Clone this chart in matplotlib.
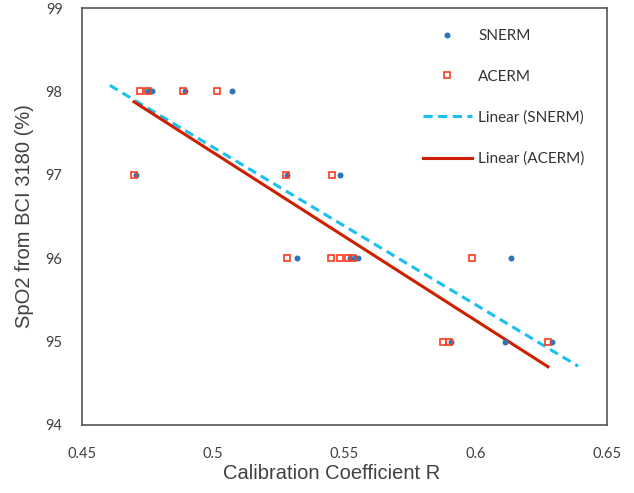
import numpy as np
import matplotlib
matplotlib.use('Agg')
import matplotlib.pyplot as plt

# Calibration coefficient R vs SpO2 reference readings
snerm_r = [0.4751, 0.4767, 0.4892, 0.5071,
           0.4706, 0.5281, 0.5483,
           0.5319, 0.5521, 0.5540, 0.5551, 0.6134,
           0.5906, 0.6111, 0.6290]
snerm_spo2 = [98, 98, 98, 98,
              97, 97, 97,
              96, 96, 96, 96, 96,
              95, 95, 95]

acerm_r = [0.4721, 0.4751, 0.4885, 0.5014,
           0.4698, 0.5277, 0.5452,
           0.5281, 0.5449, 0.5483, 0.5514, 0.5533, 0.5986,
           0.5875, 0.5898, 0.6275]
acerm_spo2 = [98, 98, 98, 98,
              97, 97, 97,
              96, 96, 96, 96, 96, 96,
              95, 95, 95]

# trendline extension (forecast backward/forward) for SNERM
snerm_extend = 0.010

x_ticks = [0.45, 0.5, 0.55, 0.6, 0.65]
x_ticklabels = ['0.45', '0.5', '0.55', '0.6', '0.65']
y_ticks = [94, 95, 96, 97, 98, 99]

blue_dot = '#2E75B6'
sq_red = '#FF3B1F'
dash_blue = '#1CC0F0'
line_red = '#CC2000'

fig = plt.figure(figsize=(6.34, 4.93), dpi=100)
ax = fig.add_axes([82/634, 1 - 425/493, (607-82)/634, (425-8)/493])

ax.plot(snerm_r, snerm_spo2, linestyle='none', marker='o', markersize=4.3,
        color=blue_dot, markeredgewidth=0, label='SNERM', zorder=3)
ax.plot(acerm_r, acerm_spo2, linestyle='none', marker='s', markersize=4.6,
        markerfacecolor='none', markeredgecolor=sq_red, markeredgewidth=1.2,
        label='ACERM', zorder=3)

# Linear trendlines
k1, b1 = np.polyfit(snerm_r, snerm_spo2, 1)
xs1 = np.array([min(snerm_r) - snerm_extend, max(snerm_r) + snerm_extend])
ax.plot(xs1, k1*xs1 + b1, color=dash_blue, linewidth=2.2, dashes=(3, 1.8),
        label='Linear (SNERM)', zorder=2)
k2, b2 = np.polyfit(acerm_r, acerm_spo2, 1)
xs2 = np.array([min(acerm_r), max(acerm_r)])
ax.plot(xs2, k2*xs2 + b2, color=line_red, linewidth=2.2,
        label='Linear (ACERM)', zorder=2)

ax.set_xlim(0.45, 0.65)
ax.set_ylim(94, 99)
ax.set_xticks(x_ticks)
ax.set_xticklabels(x_ticklabels)
ax.set_yticks(y_ticks)
ax.tick_params(length=0, labelsize=10.5, labelcolor='#404040')
ax.tick_params(axis='x', pad=16)
ax.tick_params(axis='y', pad=14)
for lab in ax.get_xticklabels() + ax.get_yticklabels():
    lab.set_fontfamily('Lato')
for sp in ax.spines.values():
    sp.set_color('#555555')
    sp.set_linewidth(1.2)

ax.set_xlabel('Calibration Coefficient R', fontsize=14.5, family='Liberation Sans',
              color='#404040')
# title sits a little left of the axis centre
ax.xaxis.set_label_coords(0.476, -0.093, transform=ax.transAxes)
ax.xaxis.label.set_verticalalignment('top')
ax.set_ylabel('SpO2 from BCI 3180 (%)', fontsize=14.5, family='Liberation Sans',
              color='#404040', labelpad=8)

leg = ax.legend(loc='upper left', bbox_to_anchor=(423/634, 1 - 29/493),
                bbox_transform=fig.transFigure, frameon=False, borderpad=0,
                borderaxespad=0, handlelength=3.2, handletextpad=0.4,
                labelspacing=1.75, prop={'family': 'Lato', 'size': 11})
for t in leg.get_texts():
    t.set_color('#333333')

fig.savefig('out.png', dpi=100)
